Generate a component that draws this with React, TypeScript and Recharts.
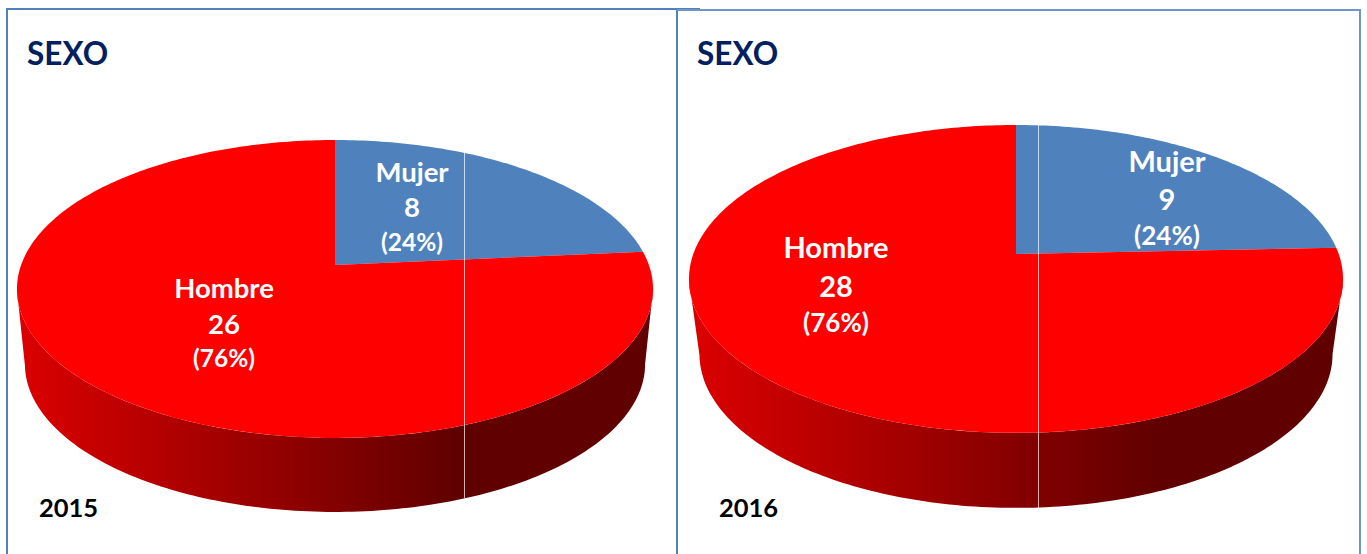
import { PieChart, Pie } from 'recharts';

const sexo2015 = [
  { name: 'Mujer', value: 8 },
  { name: 'Hombre', value: 26 },
];
const sexo2016 = [
  { name: 'Mujer', value: 9 },
  { name: 'Hombre', value: 28 },
];

const FONT = 'Lato, "Open Sans", sans-serif';

// tilted pie: apex sits above the ellipse centre, k is the perspective factor
const panel2015 = {
  id: 'p2015', year: '2015', data: sexo2015,
  cx: 335, cy: 265, a: 313.9, b: 145.1, k: 0.161, shrinkX: 0.975, shrinkY: 0.993, drop: 75.2,
  gradFrom: 17, gradTo: 460,
  labelPos: { Mujer: [412, 171, 206, 241, 27.5], Hombre: [224, 287, 323, 357, 27.5] } as any,
  titleX: 27, yearX: 39, lineX: 464, lineTop: 153, lineBottom: 498,
};
const panel2016 = {
  id: 'p2016', year: '2016', data: sexo2016,
  cx: 1016, cy: 254, a: 322.7, b: 149.9, k: 0.162, shrinkX: 0.968, shrinkY: 1, drop: 75,
  gradFrom: 689, gradTo: 1160,
  labelPos: { Mujer: [1167, 160, 198, 235, 29], Hombre: [836, 246, 285, 322, 29] } as any,
  titleX: 697, yearX: 719, lineX: 1038, lineTop: 125, lineBottom: 508,
};

function rim(p: any, deg: number) {
  const r = (deg * Math.PI) / 180;
  const w = 1 + p.k * Math.sin(r);
  return [(p.a * Math.cos(r)) / w, (-p.b * Math.sin(r)) / w];
}

function TiltedSector(props: any, p: any) {
  const { startAngle, endAngle, fill } = props;
  const steps = Math.ceil(Math.abs(startAngle - endAngle));
  const top: string[] = [];
  for (let i = 0; i <= steps; i++) {
    const [x, y] = rim(p, startAngle + ((endAngle - startAngle) * i) / steps);
    top.push(`${p.cx + x},${p.cy + y}`);
  }

  // side wall only for the part of the rim facing the viewer
  const edge = (Math.asin(p.k) * 180) / Math.PI;
  const hi = Math.min(startAngle, -edge);
  const lo = Math.max(endAngle, -180 + edge);
  let wall = '';
  if (hi > lo) {
    const upper: string[] = [];
    const lower: string[] = [];
    for (let d = hi; d >= lo; d -= 1) {
      const [x, y] = rim(p, d);
      upper.push(`${p.cx + x},${p.cy + y}`);
      lower.unshift(`${p.cx + x * p.shrinkX},${p.cy + y * p.shrinkY + p.drop}`);
    }
    wall = `M${upper.join('L')}L${lower.join('L')}Z`;
  }

  return (
    <g>
      <defs>
        <linearGradient id={`wall-${p.id}`} gradientUnits="userSpaceOnUse" x1={p.gradFrom} x2={p.gradTo} y1={0} y2={0}>
          <stop offset="0%" stopColor="#dc0000" />
          <stop offset="100%" stopColor="#600000" />
        </linearGradient>
      </defs>
      {wall && <path d={wall} fill={`url(#wall-${p.id})`} />}
      <path d={`M${p.cx},${p.cy}L${top.join('L')}Z`} fill={fill} />
    </g>
  );
}

function SliceLabel(props: any, p: any) {
  const { name, value, percent } = props;
  const [x, y1, y2, y3, size] = p.labelPos[name];
  const common = { x, textAnchor: 'middle' as const, dominantBaseline: 'central' as any, fill: '#fff', fontFamily: FONT, fontWeight: 700 };
  return (
    <g>
      <text {...common} y={y1} fontSize={size}>{name}</text>
      <text {...common} y={y2} fontSize={size}>{value}</text>
      <text {...common} y={y3} fontSize={size - 3}>({Math.round(percent * 100)}%)</text>
    </g>
  );
}

function withFill(data: any[]) {
  return data.map(d => ({ ...d, fill: d.name === 'Mujer' ? '#4f81bd' : '#ff0000' }));
}

const frameColor = '#4f81bd';

export default function App() {
  const panels = [panel2015, panel2016];
  return (
    <div style={{ position: 'absolute', left: 0, top: 0, width: 1367, height: 554, background: '#fff', overflow: 'hidden' }}>
      <div style={{ position: 'absolute', left: 6, top: 8, width: 668, height: 560, border: `2px solid ${frameColor}` }} />
      <div style={{ position: 'absolute', left: 677, top: 8, width: 23, height: 2, background: frameColor }} />
      <div style={{ position: 'absolute', left: 677, top: 9, width: 682, height: 560, borderTop: '2px solid #6d96c9', borderRight: '2px solid #6d96c9' }} />

      <PieChart width={1367} height={554} style={{ position: 'absolute', left: 0, top: 0 }}>
        {panels.map(p => (
          <Pie
            key={p.id}
            data={withFill(p.data)}
            dataKey="value"
            nameKey="name"
            cx={p.cx}
            cy={p.cy}
            outerRadius={p.a}
            startAngle={90}
            endAngle={-270}
            stroke="none"
            isAnimationActive={false}
            shape={(props: any) => TiltedSector(props, p)}
            label={(props: any) => SliceLabel(props, p)}
            labelLine={false}
          />
        ))}
      </PieChart>

      {panels.map(p => (
        <div key={p.id}>
          <div style={{ position: 'absolute', left: p.lineX, top: p.lineTop, width: 1, height: p.lineBottom - p.lineTop, background: 'rgba(255,255,255,0.7)' }} />
          <div style={{ position: 'absolute', left: p.titleX, top: 33, fontFamily: FONT, fontWeight: 700, fontSize: 31.5, lineHeight: '40px', color: '#002060' }}>SEXO</div>
          <div style={{ position: 'absolute', left: p.yearX, top: 492, fontFamily: FONT, fontWeight: 700, fontSize: 25.5, lineHeight: '30px', color: '#000' }}>{p.year}</div>
        </div>
      ))}
    </div>
  );
}
